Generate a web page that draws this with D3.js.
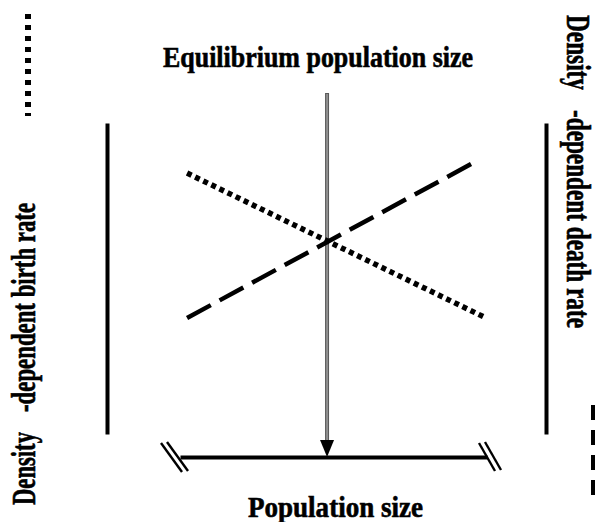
<!DOCTYPE html>
<html lang="en">
<head>
    <meta charset="UTF-8">
    <title>Equilibrium population size</title>
    <script src="https://d3js.org/d3.v7.min.js"></script>
    <style>
        html, body { margin: 0; padding: 0; background: #fff; }
    </style>
</head>
<body>
    <div id="chart"></div>

    <script>
        // population size (0-100) at the two ends of each rate line
        const sizeBirth = [2.3, 99.7];
        const birthRate = [83.9, 37.3];   // density-dependent birth rate, falls with size
        const sizeDeath = [2.3, 96.1];
        const deathRate = [37.3, 87.5];   // density-dependent death rate, rises with size
        const equilibriumSize = 47.9;

        const titleText = "Equilibrium population size";
        const xTitle = "Population size";
        const leftTitle = ["Density", "-dependent birth rate"];
        const rightTitle = ["Density", "-dependent death rate"];

        const W = 611, H = 522;
        const x = d3.scaleLinear().domain([0, 100]).range([180, 487]);
        const y = d3.scaleLinear().domain([0, 100]).range([434, 123]);

        const svg = d3.select("#chart").append("svg")
            .attr("width", W)
            .attr("height", H);

        // plain axes, no ticks
        function bareAxis(g, lw) {
            g.selectAll(".tick").remove();
            g.select(".domain").attr("stroke", "#000").attr("stroke-width", lw);
        }
        svg.append("g").attr("transform", "translate(107,0)")
            .call(d3.axisLeft(y).tickValues([]).tickSizeOuter(0))
            .call(g => bareAxis(g, 4));
        svg.append("g").attr("transform", "translate(546,0)")
            .call(d3.axisRight(y).tickValues([]).tickSizeOuter(0))
            .call(g => bareAxis(g, 4));
        svg.append("g").attr("transform", "translate(0,457)")
            .call(d3.axisBottom(x).tickValues([]).tickSizeOuter(0))
            .call(g => bareAxis(g, 4));

        // axis break marks at both ends
        const breaks = [
            [[161, 443], [182, 472]], [[167, 442], [188, 471]],
            [[479, 443], [495, 471]], [[485, 442], [501, 470]]
        ];
        svg.selectAll(".brk").data(breaks).enter().append("line")
            .attr("class", "brk")
            .attr("x1", d => d[0][0]).attr("y1", d => d[0][1])
            .attr("x2", d => d[1][0]).attr("y2", d => d[1][1])
            .attr("stroke", "#000").attr("stroke-width", 2.4);

        // equilibrium arrow
        const ex = x(equilibriumSize);
        svg.append("line")
            .attr("x1", ex).attr("x2", ex).attr("y1", 93).attr("y2", 442)
            .attr("stroke", "#5a5a5a").attr("stroke-width", 4);
        svg.append("line")
            .attr("x1", ex).attr("x2", ex).attr("y1", 94).attr("y2", 442)
            .attr("stroke", "#9a9a9a").attr("stroke-width", 1.6);
        svg.append("path")
            .attr("d", `M${ex - 7},440 L${ex + 7},440 L${ex},457 Z`)
            .attr("fill", "#000");

        const line = d3.line().x(d => x(d[0])).y(d => y(d[1]));

        svg.append("path")
            .datum(d3.zip(sizeBirth, birthRate))
            .attr("d", line)
            .attr("fill", "none").attr("stroke", "#000")
            .attr("stroke-width", 5.5).attr("stroke-dasharray", "5,4");

        svg.append("path")
            .datum(d3.zip(sizeDeath, deathRate))
            .attr("d", line)
            .attr("fill", "none").attr("stroke", "#000")
            .attr("stroke-width", 4.5).attr("stroke-dasharray", "27,10");

        // legend swatches
        svg.append("line")
            .attr("x1", 28).attr("x2", 28).attr("y1", 14).attr("y2", 116)
            .attr("stroke", "#000").attr("stroke-width", 6).attr("stroke-dasharray", "5,6");
        svg.append("line")
            .attr("x1", 593).attr("x2", 593).attr("y1", 405).attr("y2", 497)
            .attr("stroke", "#000").attr("stroke-width", 4).attr("stroke-dasharray", "15,10");

        // titles, squeezed like the condensed original lettering
        function squeezed(txt, tx, ty, rot, size, len) {
            svg.append("text")
                .attr("transform", `translate(${tx},${ty}) rotate(${rot})`)
                .attr("font-family", "'Liberation Serif', 'Times New Roman', Times, serif")
                .attr("font-weight", "bold")
                .attr("font-size", size)
                .attr("fill", "#000")
                .attr("stroke", "#000")
                .attr("stroke-width", 0.6)
                .attr("textLength", len)
                .attr("lengthAdjust", "spacingAndGlyphs")
                .text(txt);
        }
        squeezed(titleText, 163, 67, 0, 29, 310);
        squeezed(xTitle, 248, 517, 0, 29, 175);
        squeezed(leftTitle[0], 35, 505, -90, 33, 73);
        squeezed(leftTitle[1], 35, 412, -90, 33, 209);
        squeezed(rightTitle[0], 567, 15, 90, 33, 75);
        squeezed(rightTitle[1], 567, 110, 90, 33, 218);
    </script>
</body>
</html>
